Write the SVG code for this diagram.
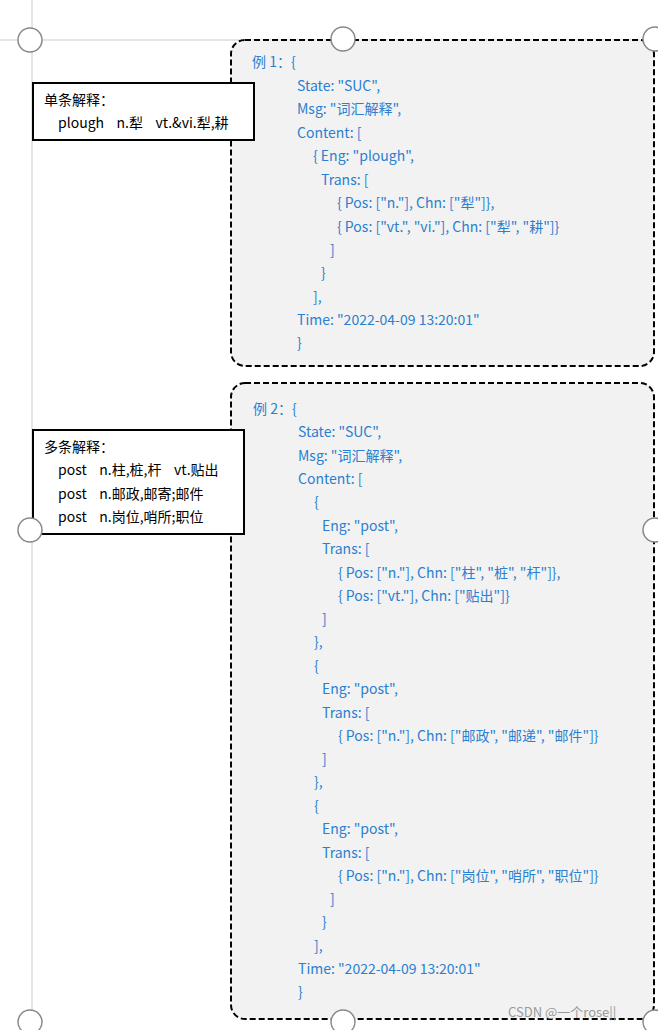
<svg xmlns="http://www.w3.org/2000/svg" width="658" height="1030" viewBox="0 0 658 1030">
<style>
.c{font-family:"Noto Sans CJK SC","Liberation Sans",sans-serif;font-size:14px;fill:#2a7fd0}
.k{font-family:"Noto Sans CJK SC","Liberation Sans",sans-serif;font-size:14px;fill:#000;white-space:pre}
.db{fill:#f2f2f2;stroke:#000;stroke-width:2;stroke-dasharray:6 3}
.bx{fill:#fff;stroke:#000;stroke-width:2}
.h{fill:#fff;stroke:#888;stroke-width:1.5}
</style>
<rect width="658" height="1030" fill="#fff"/>
<line x1="32" y1="0" x2="32" y2="1030" stroke="#ccc"/>
<line x1="0" y1="40" x2="640" y2="40" stroke="#ccc"/>
<g id="example1">
<rect class="db" x="231" y="40" width="423" height="326" rx="14"/>
<text class="c" x="252" y="67">例 1：{</text>
<text class="c" x="297" y="91">State: "SUC",</text>
<text class="c" x="297" y="114">Msg: "词汇解释",</text>
<text class="c" x="297" y="138">Content: [</text>
<text class="c" x="313" y="161">{ Eng: "plough",</text>
<text class="c" x="321" y="185">Trans: [</text>
<text class="c" x="337" y="208">{ Pos: ["n."], Chn: ["犁"]},</text>
<text class="c" x="337" y="232">{ Pos: ["vt.", "vi."], Chn: ["犁", "耕"]}</text>
<text class="c" x="330" y="255">]</text>
<text class="c" x="321" y="278">}</text>
<text class="c" x="313" y="302">],</text>
<text class="c" x="297" y="325">Time: "2022-04-09 13:20:01"</text>
<text class="c" x="297" y="348">}</text>
</g>
<g id="example2">
<rect class="db" x="231" y="383" width="423" height="636" rx="14"/>
<text class="c" x="253" y="414">例 2：{</text>
<text class="c" x="298" y="437">State: "SUC",</text>
<text class="c" x="298" y="461">Msg: "词汇解释",</text>
<text class="c" x="298" y="484">Content: [</text>
<text class="c" x="314" y="507">{</text>
<text class="c" x="322" y="531">Eng: "post",</text>
<text class="c" x="322" y="554">Trans: [</text>
<text class="c" x="338" y="578">{ Pos: ["n."], Chn: ["柱", "桩", "杆"]},</text>
<text class="c" x="338" y="601">{ Pos: ["vt."], Chn: ["贴出"]}</text>
<text class="c" x="322" y="624">]</text>
<text class="c" x="314" y="647">},</text>
<text class="c" x="314" y="671">{</text>
<text class="c" x="322" y="694">Eng: "post",</text>
<text class="c" x="322" y="718">Trans: [</text>
<text class="c" x="338" y="741">{ Pos: ["n."], Chn: ["邮政", "邮递", "邮件"]}</text>
<text class="c" x="322" y="764">]</text>
<text class="c" x="314" y="787">},</text>
<text class="c" x="314" y="811">{</text>
<text class="c" x="322" y="834">Eng: "post",</text>
<text class="c" x="322" y="858">Trans: [</text>
<text class="c" x="338" y="881">{ Pos: ["n."], Chn: ["岗位", "哨所", "职位"]}</text>
<text class="c" x="330" y="904">]</text>
<text class="c" x="322" y="927">}</text>
<text class="c" x="314" y="951">],</text>
<text class="c" x="298" y="974">Time: "2022-04-09 13:20:01"</text>
<text class="c" x="298" y="997">}</text>
</g>
<g id="single">
<rect class="bx" x="33" y="83" width="221" height="57"/>
<text class="k" x="44" y="105">单条解释：</text>
<text class="k" x="58" y="128">plough    n.犁    vt.&amp;vi.犁,耕</text>
</g>
<g id="multi">
<rect class="bx" x="33" y="430" width="211" height="104"/>
<text class="k" x="44" y="452">多条解释：</text>
<text class="k" x="58" y="475">post    n.柱,桩,杆    vt.贴出</text>
<text class="k" x="58" y="499">post    n.邮政,邮寄;邮件</text>
<text class="k" x="58" y="522">post    n.岗位,哨所;职位</text>
</g>
<g id="handles">
<circle class="h" cx="30" cy="40" r="12"/>
<circle class="h" cx="343" cy="39" r="12"/>
<circle class="h" cx="655" cy="39" r="12"/>
<circle class="h" cx="30" cy="530" r="12"/>
<circle class="h" cx="655" cy="530" r="12"/>
<circle class="h" cx="30" cy="1022" r="12"/>
<circle class="h" cx="343" cy="1022" r="12"/>
<circle class="h" cx="655" cy="1022" r="12"/>
</g>
<text x="508" y="1017" style="font-family:'Noto Sans CJK SC','Liberation Sans',sans-serif;font-size:13px;fill:#999">CSDN @一个rose||</text>
</svg>
